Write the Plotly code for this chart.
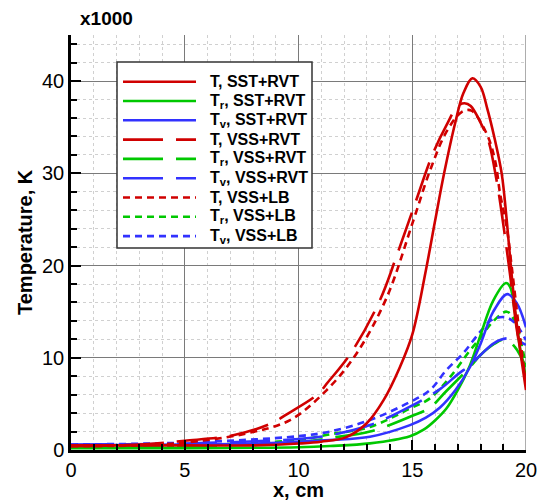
import plotly.graph_objects as go

# ---------------- data (x in cm, temperature in units of 1000 K) ----------------
x_T_sst = [0, 5, 8, 10, 11, 12.1, 13.0, 13.74, 14.46, 15.0, 15.6, 16.0, 16.4, 16.9, 17.25, 17.64, 18.0, 18.3, 18.6, 18.93, 19.15, 19.35, 19.6, 20]
y_T_sst = [0.5, 0.5, 0.5, 0.7, 0.9, 1.4, 2.9, 5.4, 9.0, 12.5, 19.5, 24.8, 30.0, 35.6, 38.7, 40.3, 39.4, 37.0, 34.0, 30.0, 25.0, 19.5, 13.5, 6.5]

x_Tr_sst = [0, 5, 10, 11.38, 13.14, 14.9, 15.5, 16.0, 16.5, 17.0, 17.54, 17.98, 18.56, 19.12, 19.3, 19.5, 19.74, 20]
y_Tr_sst = [0.2, 0.2, 0.3, 0.43, 0.72, 1.5, 2.2, 3.2, 4.5, 6.5, 9.2, 12.3, 16.2, 18.1, 17.7, 15.2, 11.0, 7.9]

x_Tv_sst = [0, 5, 8, 10, 11.38, 13.14, 14.9, 15.6, 16.22, 16.9, 17.54, 18.0, 18.56, 19.18, 19.6, 20]
y_Tv_sst = [0.5, 0.6, 0.7, 0.9, 1.08, 1.44, 2.7, 3.5, 4.6, 6.5, 9.0, 11.5, 15.0, 16.9, 15.9, 13.3]

x_T_vss = [0, 3, 5, 7.13, 8.82, 9.5, 10.8, 11.31, 12.34, 13.58, 14.32, 15.12, 15.9, 16.5, 17.0, 17.3, 17.57, 18.0, 18.34, 18.71, 19.0, 19.3, 19.6, 20]
y_T_vss = [0.4, 0.6, 1.0, 1.6, 2.9, 3.9, 5.96, 7.4, 10.65, 16.25, 21.1, 26.7, 32.1, 35.2, 37.3, 37.6, 37.3, 35.5, 33.6, 29.2, 24.5, 19.0, 13.0, 7.5]

x_Tr_vss = [0, 5, 10, 11.38, 13.14, 14.9, 15.78, 16.5, 17.54, 18.0, 18.6, 19.1, 19.5, 20]
y_Tr_vss = [0.3, 0.4, 0.8, 1.3, 2.0, 3.6, 4.6, 6.4, 9.0, 10.3, 11.5, 12.0, 11.2, 9.0]

x_Tv_vss = [0, 5, 10, 11.38, 13.14, 14.9, 16.22, 17.0, 17.54, 18.0, 18.6, 19.15, 19.66, 20]
y_Tv_vss = [0.6, 0.7, 1.2, 1.6, 2.7, 4.7, 6.6, 8.2, 9.2, 10.3, 11.6, 12.1, 11.8, 11.4]

x_T_lb = [0, 3, 5, 7.72, 9.63, 11.24, 12.56, 13.87, 15.05, 15.78, 16.5, 17.17, 17.6, 18.27, 18.64, 18.86, 19.15, 19.37, 19.65, 20]
y_T_lb = [0.4, 0.5, 0.8, 1.8, 3.25, 6.5, 10.5, 16.5, 24.9, 30.3, 34.5, 36.65, 36.8, 34.3, 31.4, 27.8, 24.2, 19.9, 14.0, 7.0]

x_Tr_lb = [0, 5, 10, 11.38, 13.14, 14.9, 15.78, 16.66, 17.54, 17.98, 18.5, 19.15, 19.5, 20]
y_Tr_lb = [0.4, 0.5, 1.1, 1.7, 2.5, 4.5, 5.6, 7.9, 10.8, 12.1, 13.8, 15.0, 14.0, 9.0]

x_Tv_lb = [0, 5, 10, 11.38, 13.14, 14.9, 15.78, 16.51, 17.24, 17.98, 18.49, 19.08, 19.5, 20]
y_Tv_lb = [0.6, 0.8, 1.5, 2.0, 3.25, 5.2, 6.5, 8.7, 10.5, 12.8, 14.1, 14.4, 13.8, 11.9]

legend_names = ["T, SST+RVT", "T<sub>r</sub>, SST+RVT", "T<sub>v</sub>, SST+RVT",
                "T, VSS+RVT", "T<sub>r</sub>, VSS+RVT", "T<sub>v</sub>, VSS+RVT",
                "T, VSS+LB", "T<sub>r</sub>, VSS+LB", "T<sub>v</sub>, VSS+LB"]

x_range = [0, 20]
y_range = [0, 45]
x_major, x_minor = 5, 1
y_major, y_minor = 10, 2

# ---------------- styles ----------------
RED, GREEN, BLUE = "#d00000", "#00c800", "#3232ff"
SOLID, DASH, DOT = "solid", "40px,13px", "7px,5px"
LW = 2.6
FONT = "Liberation Sans, Arial, Helvetica, sans-serif"

series = [
    (x_T_sst, y_T_sst, RED, SOLID),
    (x_Tr_sst, y_Tr_sst, GREEN, SOLID),
    (x_Tv_sst, y_Tv_sst, BLUE, SOLID),
    (x_T_vss, y_T_vss, RED, DASH),
    (x_Tr_vss, y_Tr_vss, GREEN, DASH),
    (x_Tv_vss, y_Tv_vss, BLUE, DASH),
    (x_T_lb, y_T_lb, RED, DOT),
    (x_Tr_lb, y_Tr_lb, GREEN, DOT),
    (x_Tv_lb, y_Tv_lb, BLUE, DOT),
]

fig = go.Figure()
# draw green/blue first, red on top
order = [7, 8, 4, 5, 1, 2, 6, 3, 0]
for i in order:
    xs, ys, c, d = series[i]
    fig.add_trace(go.Scatter(x=xs, y=ys, mode="lines", name=legend_names[i],
                             line=dict(color=c, width=LW, dash=d, shape="spline", smoothing=1.0),
                             showlegend=False))

W, H = 537, 502
L, R, T, B = 71, 11, 35, 52
pw, ph = W - L - R, H - T - B

def px2paper(px, py):
    return (px - L) / pw, (H - B - py) / ph

shapes = []
annotations = []

# right-hand grey boundary line at x max
shapes.append(dict(type="line", xref="x", yref="paper", x0=x_range[1], x1=x_range[1], y0=0, y1=1,
                   line=dict(color="#777777", width=1.2), layer="below"))

# manual legend
bx0, by0 = px2paper(117, 62)
bx1, by1 = px2paper(312, 248)
shapes.append(dict(type="rect", xref="paper", yref="paper", x0=bx0, x1=bx1, y0=by1, y1=by0,
                   line=dict(color="#333333", width=1.5), fillcolor="white", layer="above"))
for k, (xs, ys, c, d) in enumerate(series):
    py = 81.7 + k * 19.3
    lx0, ly = px2paper(123, py)
    lx1, _ = px2paper(196, py)
    shapes.append(dict(type="line", xref="paper", yref="paper", x0=lx0, x1=lx1, y0=ly, y1=ly,
                       line=dict(color=c, width=LW, dash=d), layer="above"))
    tx, _ = px2paper(208, py)
    annotations.append(dict(xref="paper", yref="paper", x=tx, y=ly, xanchor="left", yanchor="middle",
                            text="<b>" + legend_names[k] + "</b>", showarrow=False,
                            font=dict(family=FONT, size=16, color="black")))

# axis titles and multiplier
ax_, ay_ = px2paper(25, 242)
annotations.append(dict(xref="paper", yref="paper", x=ax_, y=ay_, textangle=-90,
                        text="<b>Temperature, K</b>", showarrow=False, xanchor="center", yanchor="middle",
                        font=dict(family=FONT, size=20, color="black")))
ax_, ay_ = px2paper(298, 490)
annotations.append(dict(xref="paper", yref="paper", x=ax_, y=ay_,
                        text="<b>x, cm</b>", showarrow=False, xanchor="center", yanchor="middle",
                        font=dict(family=FONT, size=20, color="black")))
ax_, ay_ = px2paper(106, 18)
annotations.append(dict(xref="paper", yref="paper", x=ax_, y=ay_,
                        text="<b>x1000</b>", showarrow=False, xanchor="center", yanchor="middle",
                        font=dict(family=FONT, size=19, color="black")))

axis_common = dict(showline=True, linecolor="black", zeroline=False, automargin=False,
                   showgrid=True, gridcolor="#7a7a7a", gridwidth=1,
                   ticks="inside", ticklen=10, tickwidth=2, tickcolor="black",
                   ticklabeloverflow="allow",
                   tickfont=dict(family=FONT, size=20, color="black"))

fig.update_layout(
    width=W, height=H,
    margin=dict(l=L, r=R, t=T, b=B, autoexpand=False),
    paper_bgcolor="white", plot_bgcolor="white",
    showlegend=False,
    shapes=shapes, annotations=annotations,
    xaxis=dict(range=x_range, tick0=0, dtick=x_major, linewidth=3,
               minor=dict(dtick=x_minor, ticks="inside", ticklen=6, tickwidth=1.5, tickcolor="black",
                          showgrid=True, gridcolor="#d0d0d0", griddash="dot", gridwidth=1),
               **axis_common),
    yaxis=dict(range=y_range, tick0=0, dtick=y_major, linewidth=2.5,
               minor=dict(dtick=y_minor, ticks="inside", ticklen=6, tickwidth=1.5, tickcolor="black",
                          showgrid=True, gridcolor="#d0d0d0", griddash="dot", gridwidth=1),
               **axis_common),
)

fig.write_html("out.html")
